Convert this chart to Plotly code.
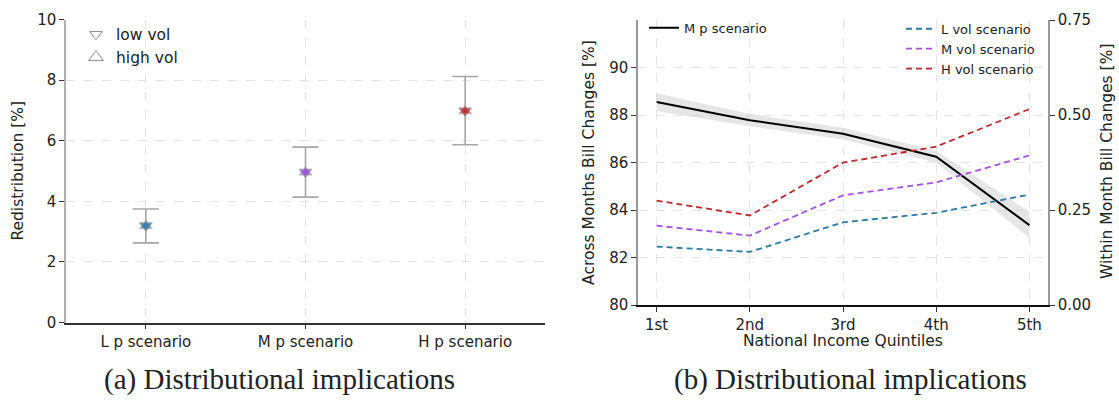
import plotly.graph_objects as go

# ---------------- data ----------------
scenarios = ["L p scenario", "M p scenario", "H p scenario"]
redis_low_vol = [3.20, 4.97, 6.99]
redis_high_vol = [3.19, 4.96, 6.98]
redis_err_plus = [0.55, 0.82, 1.13]
redis_err_minus = [0.57, 0.83, 1.12]
scen_colors = ["#2a7aa8", "#9b4ddf", "#c0282d"]

quintiles = ["1st", "2nd", "3rd", "4th", "5th"]
m_p_scenario = [88.55, 87.79, 87.22, 86.25, 83.37]
m_p_upper = [88.92, 88.05, 87.47, 86.50, 83.93]
m_p_lower = [88.18, 87.53, 86.97, 86.00, 82.83]
l_vol = [0.154, 0.140, 0.218, 0.243, 0.291]
m_vol = [0.209, 0.183, 0.289, 0.323, 0.394]
h_vol = [0.275, 0.236, 0.375, 0.417, 0.516]

W, H = 1119, 410
FONT = "DejaVu Sans"
GRID = "#e3e3e3"

def px_x(p):
    return p / W

def px_y(p):
    return 1 - p / H

fig = go.Figure()

# ---------------- left panel ----------------
xi = list(range(len(scenarios)))
fig.add_trace(go.Scatter(
    x=xi, y=redis_low_vol, mode="markers",
    marker=dict(symbol="circle", size=0.1, color="rgba(0,0,0,0)"),
    error_y=dict(type="data", array=redis_err_plus, arrayminus=redis_err_minus,
                 color="#a6a6a6", thickness=1.6, width=13),
    showlegend=False, xaxis="x", yaxis="y", hoverinfo="skip"))
fig.add_trace(go.Scatter(
    x=xi, y=redis_low_vol, mode="markers",
    marker=dict(symbol="triangle-down", size=11, color=scen_colors, opacity=0.8,
                line=dict(color="#8c8c8c", width=1)),
    showlegend=False, xaxis="x", yaxis="y"))
fig.add_trace(go.Scatter(
    x=xi, y=redis_high_vol, mode="markers",
    marker=dict(symbol="triangle-up", size=11, color=scen_colors, opacity=0.6,
                line=dict(color="#8c8c8c", width=1)),
    showlegend=False, xaxis="x", yaxis="y"))
# legend entries (open gray triangles)
fig.add_trace(go.Scatter(
    x=[None], y=[None], mode="markers", name="low vol",
    marker=dict(symbol="triangle-down-open", size=11, color="#8c8c8c", line=dict(width=1)),
    xaxis="x", yaxis="y", legend="legend"))
fig.add_trace(go.Scatter(
    x=[None], y=[None], mode="markers", name="high vol",
    marker=dict(symbol="triangle-up-open", size=13, color="#8c8c8c", line=dict(width=1)),
    xaxis="x", yaxis="y", legend="legend"))

# ---------------- right panel ----------------
qi = list(range(len(quintiles)))
fig.add_trace(go.Scatter(
    x=qi, y=m_p_upper, mode="lines", line=dict(width=0, color="rgba(0,0,0,0)"),
    showlegend=False, xaxis="x2", yaxis="y2", hoverinfo="skip"))
fig.add_trace(go.Scatter(
    x=qi, y=m_p_lower, mode="lines", line=dict(width=0, color="rgba(0,0,0,0)"),
    fill="tonexty", fillcolor="rgba(200,200,200,0.45)",
    showlegend=False, xaxis="x2", yaxis="y2", hoverinfo="skip"))
fig.add_trace(go.Scatter(
    x=qi, y=m_p_scenario, mode="lines", name="M p scenario",
    line=dict(color="black", width=2), xaxis="x2", yaxis="y2", legend="legend2"))

for name, vals, col in [("L vol scenario", l_vol, "#2a7aa8"),
                        ("M vol scenario", m_vol, "#a64ee6"),
                        ("H vol scenario", h_vol, "#c0282d")]:
    fig.add_trace(go.Scatter(
        x=qi, y=vals, mode="lines", name=name,
        line=dict(color=col, width=1.8, dash="6px,4px"),
        xaxis="x2", yaxis="y3", legend="legend3"))

tickfont = dict(family=FONT, size=15, color="#222")
axis_common = dict(showgrid=True, gridcolor=GRID, griddash="dash", gridwidth=1,
                   zeroline=False, ticks="outside", ticklen=5, tickfont=tickfont)

fig.update_layout(
    width=W, height=H,
    margin=dict(l=0, r=0, t=0, b=0),
    paper_bgcolor="white", plot_bgcolor="white",
    font=dict(family=FONT, size=15, color="#222"),
    xaxis=dict(domain=[px_x(66), px_x(545)], range=[-0.5, 2.5],
               tickvals=xi, ticktext=scenarios, showline=True, linecolor="#333",
               linewidth=1.5, tickcolor="#333", anchor="y", **axis_common),
    yaxis=dict(domain=[px_y(328), px_y(11)], range=[0, 10], tickvals=[0, 2, 4, 6, 8, 10],
               showline=True, linecolor="#b0b0b0", linewidth=1.5, tickcolor="#333",
               anchor="x", **axis_common),
    xaxis2=dict(domain=[px_x(638), px_x(1048)], range=[-0.2, 4.2],
                tickvals=qi, ticktext=quintiles, showline=True, linecolor="#111",
                linewidth=1.5, tickcolor="#333", anchor="y2", **axis_common),
    yaxis2=dict(domain=[px_y(309.7), px_y(11.7)], range=[80, 92],
                tickvals=[80, 82, 84, 86, 88, 90], showline=True, linecolor="#999",
                linewidth=1.5, tickcolor="#333", anchor="x2", **axis_common),
    yaxis3=dict(domain=[px_y(309.7), px_y(11.7)], range=[0, 0.75],
                tickvals=[0, 0.25, 0.5, 0.75], ticktext=["0.00", "0.25", "0.50", "0.75"],
                overlaying="y2", side="right", anchor="x2", showline=True,
                linecolor="#999", linewidth=1.5, tickcolor="#333",
                showgrid=False, zeroline=False, ticks="outside", ticklen=5, tickfont=tickfont),
    legend=dict(x=px_x(76), y=px_y(9), xanchor="left", yanchor="top", traceorder="normal",
                bgcolor="rgba(255,255,255,0)", font=dict(family=FONT, size=15.5, color="#222"),
                itemwidth=30, tracegroupgap=0),
    legend2=dict(x=px_x(644), y=px_y(4), xanchor="left", yanchor="top", traceorder="normal",
                 bgcolor="rgba(255,255,255,0)", font=dict(family=FONT, size=13, color="#222"),
                 itemwidth=30),
    legend3=dict(x=px_x(901), y=px_y(5), xanchor="left", yanchor="top", traceorder="normal",
                 bgcolor="rgba(255,255,255,0)", font=dict(family=FONT, size=13, color="#222"),
                 itemwidth=30, tracegroupgap=0),
)

ann_font = dict(family=FONT, size=15.5, color="#222")
def ann(text, x, y, font, angle=0):
    fig.add_annotation(text=text, x=px_x(x), y=px_y(y), xref="paper", yref="paper",
                       xanchor="center", yanchor="middle", textangle=angle,
                       showarrow=False, font=font)

ann("Redistribution [%]", 18, 169, ann_font, -90)
ann("Across Months Bill Changes [%]", 589, 161, ann_font, -90)
ann("Within Month Bill Changes [%]", 1107, 160, ann_font, -90)
ann("National Income Quintiles", 843, 347, ann_font)

cap_font = dict(family="Liberation Serif", size=29, color="#222")
ann("(a) Distributional implications", 279, 387, cap_font)
ann("(b) Distributional implications", 850, 387, cap_font)

fig.write_html("out.html")
